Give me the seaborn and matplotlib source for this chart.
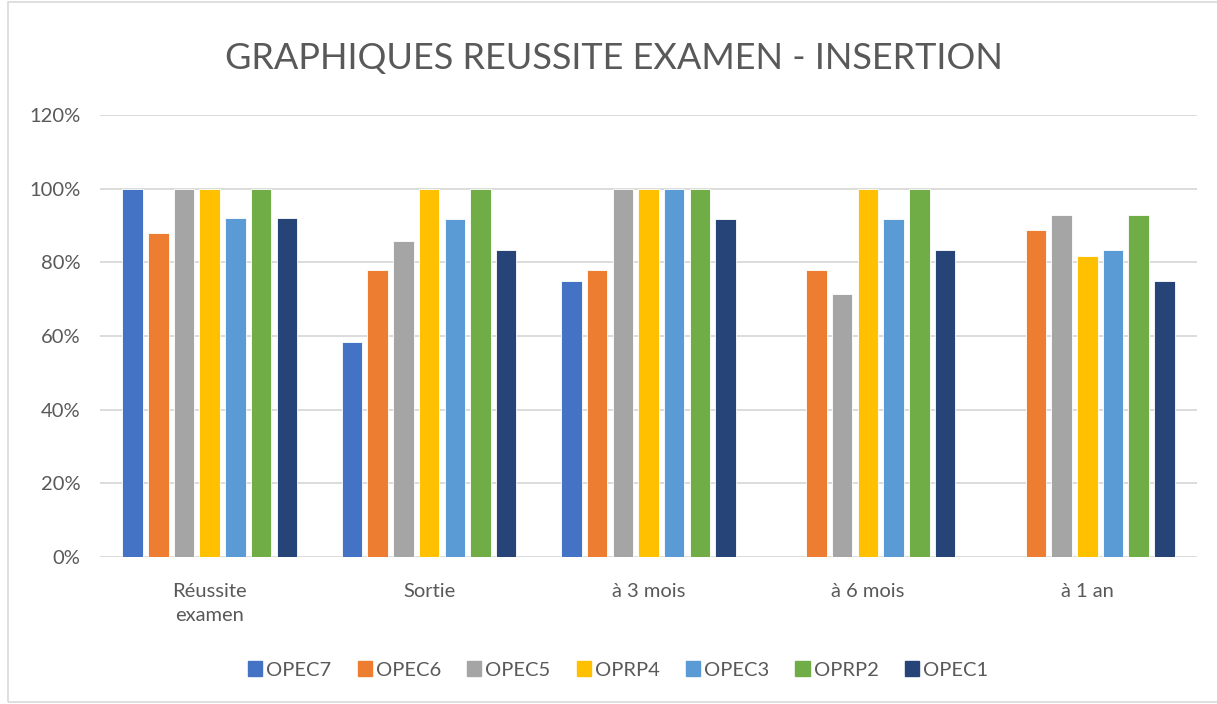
import pandas as pd
import numpy as np
import matplotlib
matplotlib.use('Agg')
import matplotlib.pyplot as plt
import matplotlib.patches as mpatches
from matplotlib.ticker import PercentFormatter
import seaborn as sns

# data
etapes = ['Réussite\nexamen', 'Sortie', 'à 3 mois', 'à 6 mois', 'à 1 an']
formations = ['OPEC7', 'OPEC6', 'OPEC5', 'OPRP4', 'OPEC3', 'OPRP2', 'OPEC1']
opec7 = [1.00, 0.583, 0.75, np.nan, np.nan]
opec6 = [0.88, 0.778, 0.778, 0.778, 0.889]
opec5 = [1.00, 0.857, 1.00, 0.714, 0.929]
oprp4 = [1.00, 1.00, 1.00, 1.00, 0.818]
opec3 = [0.92, 0.917, 1.00, 0.917, 0.833]
oprp2 = [1.00, 1.00, 1.00, 1.00, 0.929]
opec1 = [0.92, 0.833, 0.917, 0.833, 0.75]
couleurs = ['#4472C4', '#ED7D31', '#A5A5A5', '#FFC000', '#5B9BD5', '#70AD47', '#264478']

series = [opec7, opec6, opec5, oprp4, opec3, oprp2, opec1]
rows = []
for nom, vals in zip(formations, series):
    for etape, v in zip(etapes, vals):
        rows.append({'Etape': etape, 'Formation': nom, 'Taux': v})
df = pd.DataFrame(rows)

sns.set_style('white')
plt.rcParams['font.family'] = ['Lato', 'DejaVu Sans']
gris = '#595959'

W, H = 1217, 704
fig = plt.figure(figsize=(W / 100, H / 100), dpi=100)
ax = fig.add_axes([100 / W, (H - 557) / H, 1097 / W, 442 / H])

sns.barplot(data=df, x='Etape', y='Taux', hue='Formation', order=etapes,
            hue_order=formations, palette=couleurs, width=0.82, gap=0.2,
            saturation=1, edgecolor='white', linewidth=0.6, ax=ax, legend=True)

ax.set_ylim(0, 1.2)
ax.set_yticks(np.arange(0, 1.21, 0.2))
ax.yaxis.set_major_formatter(PercentFormatter(1.0, decimals=0))
ax.grid(axis='y', color='#D9D9D9', linewidth=1.3)
ax.set_axisbelow(True)
for s in ax.spines.values():
    s.set_visible(False)
ax.set_xlabel('')
ax.set_ylabel('')
ax.tick_params(axis='both', length=0, labelsize=14.5, colors=gris)
ax.tick_params(axis='x', pad=19)
ax.tick_params(axis='y', pad=14)
for lab in ax.get_xticklabels():
    lab.set_linespacing(1.45)
    lab.set_verticalalignment('top')

handles = [mpatches.Patch(color=c) for c in couleurs]
ax.legend(handles, formations, loc='center', bbox_to_anchor=(618 / W, (H - 670) / H),
          bbox_transform=fig.transFigure, ncol=7, frameon=False, fontsize=14.5,
          handlelength=0.7, handleheight=0.7, handletextpad=0.2,
          columnspacing=1.3, labelcolor=gris)

fig.text(614 / W, 1 - 58 / H, 'GRAPHIQUES REUSSITE EXAMEN - INSERTION',
         ha='center', va='center', fontsize=26, color=gris, fontweight='normal')

fig.patches.append(mpatches.Rectangle((8 / W, 2 / H), 1 - 8 / W + 0.01, 1 - 4 / H,
                                      transform=fig.transFigure, fill=False,
                                      edgecolor='#D9D9D9', linewidth=1.2))

fig.savefig('out.png', dpi=100)
